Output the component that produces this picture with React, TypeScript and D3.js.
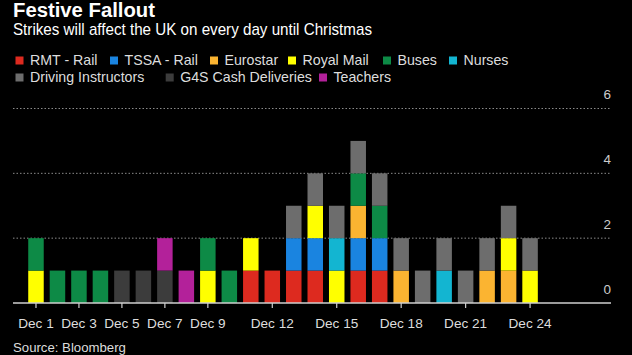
import React from "react";
import * as d3 from "d3";

const seriesNames = [
  "RMT - Rail",
  "TSSA - Rail",
  "Eurostar",
  "Royal Mail",
  "Buses",
  "Nurses",
  "Driving Instructors",
  "G4S Cash Deliveries",
  "Teachers",
];
const seriesColors = [
  "#dd2a1f",
  "#1a84e0",
  "#fbb431",
  "#ffff00",
  "#0d8a46",
  "#13b5d1",
  "#6d6d6d",
  "#3c3c3c",
  "#b3219a",
];
const days = d3.range(1, 25);
// one array per series: 1 if strike on that day (Dec 1..Dec 24)
const rmtRail = [0,0,0,0,0,0,0,0,0,0,1,1,1,1,0,1,1,0,0,0,0,0,0,0];
const tssaRail = [0,0,0,0,0,0,0,0,0,0,0,0,1,1,0,1,1,0,0,0,0,0,0,0];
const eurostar = [0,0,0,0,0,0,0,0,0,0,0,0,0,0,0,1,0,1,0,0,0,1,1,0];
const royalMail = [1,0,0,0,0,0,0,0,1,0,1,0,0,1,1,0,0,0,0,0,0,0,1,1];
const buses = [1,1,1,1,0,0,0,0,1,1,0,0,0,0,0,1,1,0,0,0,0,0,0,0];
const nurses = [0,0,0,0,0,0,0,0,0,0,0,0,0,0,1,0,0,0,0,1,0,0,0,0];
const drivingInstructors = [0,0,0,0,0,0,0,0,0,0,0,0,1,1,1,1,1,1,1,1,1,1,1,1];
const g4s = [0,0,0,0,1,1,1,0,0,0,0,0,0,0,0,0,0,0,0,0,0,0,0,0];
const teachers = [0,0,0,0,0,0,1,1,0,0,0,0,0,0,0,0,0,0,0,0,0,0,0,0];
const seriesValues = [rmtRail, tssaRail, eurostar, royalMail, buses, nurses, drivingInstructors, g4s, teachers];
const xTickDays = [1, 3, 5, 7, 9, 12, 15, 18, 21, 24];
const yTicks = [0, 2, 4, 6];

const FONT = "'Liberation Sans', Arial, sans-serif";

// legend layout (square left edges per row)
const legendRowX = [
  [15.5, 110, 210, 288, 383, 449],
  [15.5, 165.7, 319],
];

export default function App() {
  const W = 632, H = 355;
  const table = days.map((d, i) => {
    const row: any = { day: d };
    seriesNames.forEach((s, j) => (row[s] = seriesValues[j][i]));
    return row;
  });
  const stacked = d3.stack<any>().keys(seriesNames)(table);

  const x = d3.scaleLinear().domain([0, 28]).range([14.5, 616]);
  const y = d3.scaleLinear().domain([0, 6]).range([303, 108.5]);
  const barW = 15.5;
  const axisL = 13, axisR = 611;

  const legendFontSize = 14.2;
  const legendItems: { name: string; x: number; y: number; color: string }[] = [];
  let k = 0;
  legendRowX.forEach((r, ri) => {
    r.forEach((lx) => {
      const name = seriesNames[k];
      legendItems.push({ name, x: lx, y: 65.3 + ri * 17, color: seriesColors[k] });
      k++;
    });
  });

  return (
    <svg width={W} height={H} style={{ position: "fixed", left: 0, top: 0, background: "#000" }} fontFamily={FONT}>
      <rect width={W} height={H} fill="#000" />
      <text x={13} y={16.8} fill="#fff" fontSize={19.5} fontWeight="bold" textLength={142} lengthAdjust="spacingAndGlyphs">Festive Fallout</text>
      <text x={13} y={35} fill="#fff" fontSize={16.2} textLength={359} lengthAdjust="spacingAndGlyphs">Strikes will affect the UK on every day until Christmas</text>
      {legendItems.map((it) => (
        <g key={it.name}>
          <rect x={it.x} y={it.y - 8.8} width={8} height={8} fill={it.color} />
          <text x={it.x + 14.5} y={it.y} fill="#ddd" fontSize={legendFontSize}>{it.name}</text>
        </g>
      ))}
      {yTicks.filter((t) => t > 0).map((t) => (
        <line key={t} x1={axisL} x2={axisR} y1={y(t)} y2={y(t)} stroke="#8a8a8a" strokeWidth={1} strokeDasharray="1.5,2" />
      ))}
      {yTicks.map((t) => (
        <text key={t} x={axisR} y={y(t) - 9.5} fill="#ccc" fontSize={13.5} textAnchor="end">{t}</text>
      ))}
      {stacked.map((layer, li) => (
        <g key={layer.key} fill={seriesColors[li]}>
          {layer.map((seg, i) =>
            seg[1] - seg[0] > 0 ? (
              <rect key={i} x={x(days[i]) - barW / 2} width={barW} y={y(seg[1])} height={y(seg[0]) - y(seg[1])} />
            ) : null
          )}
        </g>
      ))}
      <line x1={axisL} x2={axisR} y1={y(0)} y2={y(0)} stroke="#cfcfcf" strokeWidth={1.5} />
      {xTickDays.map((d) => (
        <g key={d}>
          <line x1={x(d)} x2={x(d)} y1={y(0)} y2={y(0) + 5} stroke="#cfcfcf" strokeWidth={1.2} />
          <text x={x(d)} y={327.5} fill="#ddd" fontSize={13.6} textAnchor="middle">{`Dec ${d}`}</text>
        </g>
      ))}
      <text x={13} y={351.5} fill="#ddd" fontSize={13.2}>Source: Bloomberg</text>
    </svg>
  );
}
